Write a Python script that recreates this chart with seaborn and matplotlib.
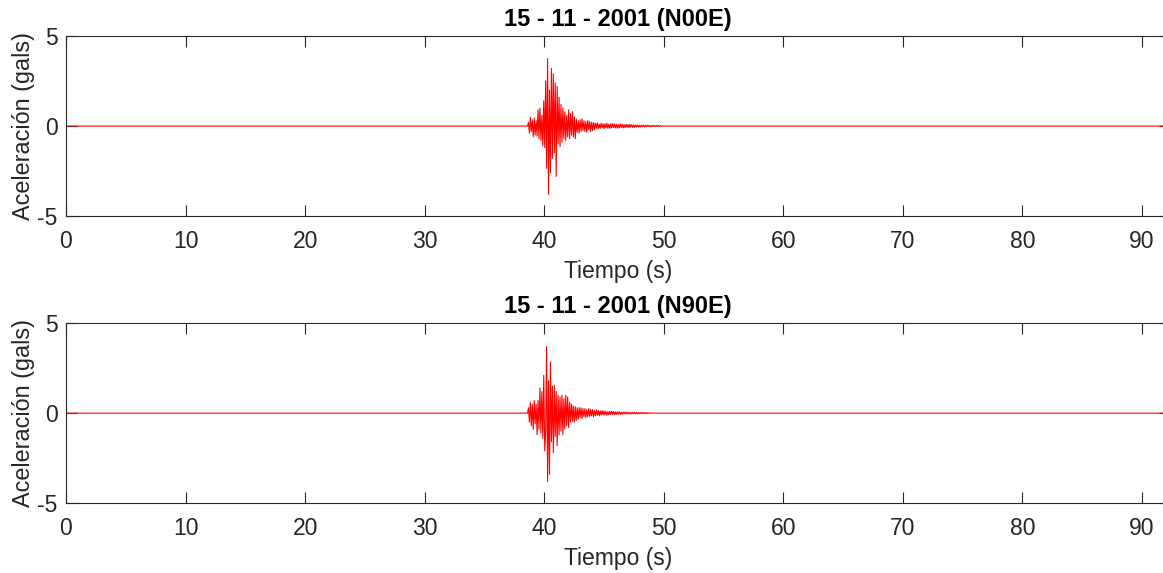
import numpy as np
import pandas as pd
import matplotlib
matplotlib.use("Agg")
import matplotlib.pyplot as plt
import seaborn as sns

# ---- data ----
titles = ["15 - 11 - 2001 (N00E)", "15 - 11 - 2001 (N90E)"]
x_ticks = [0, 10, 20, 30, 40, 50, 60, 70, 80, 90]
y_ticks = [-5, 0, 5]
t_start = 0.0
t_end = 92.3
burst_t0 = 38.6      # s, first sample of the strong-motion burst
burst_dt = 0.08      # s, sample spacing of the burst values

acc_n00e = [0.0,
            0.2, -0.4, 0.5, -0.3, 0.35, -0.6, 0.45, -0.5, 0.3, -0.55,
            0.9, -0.7, 1.0, -0.8, 0.6, -1.1, 1.4, -1.2, 2.5, -2.35,
            3.75, -3.8, 2.0, -2.6, 3.2, -1.8, 2.9, -1.5, 2.4, -2.8,
            2.2, -1.0, 1.6, -1.15, 1.2, -0.9, 1.0, -0.7, 0.8, -0.8,
            0.6, -0.6, 0.9, -0.7, 0.7, -0.5, 0.8, -0.6, 0.5, -0.7,
            0.4, -0.35, 0.3, -0.4, 0.35, -0.3, 0.4, -0.25, 0.3, -0.3,
            0.25, -0.35, 0.3, -0.2, 0.25, -0.3, 0.2, -0.25, 0.2, -0.2,
            0.15, -0.12, 0.18, -0.15, 0.1, -0.14, 0.16, -0.1, 0.12, -0.15,
            0.13, -0.1, 0.15, -0.12, 0.1, -0.13, 0.12, -0.1, 0.14, -0.08,
            0.12, -0.1, 0.1, -0.12, 0.08, -0.1, 0.12, -0.08, 0.1, -0.1,
            0.08, -0.09, 0.1, -0.07, 0.08, -0.08, 0.09, -0.06, 0.07, -0.08,
            0.06, -0.07, 0.06, -0.05, 0.05, -0.06, 0.04, -0.05, 0.05, -0.04,
            0.05, -0.05, 0.04, -0.04, 0.05, -0.03, 0.04, -0.04, 0.03, -0.04,
            0.04, -0.03, 0.03, -0.03, 0.04, -0.02, 0.03, -0.03, 0.02, -0.02,
            0.0]

acc_n90e = [0.0,
            0.3, -0.5, 0.6, -0.7, 0.5, -0.9, 0.7, -0.6, 0.5, -1.2,
            0.7, -0.9, 1.4, -1.1, 1.2, -1.4, 2.1, -2.1, -1.0, 3.7,
            -3.8, 1.8, -3.4, 2.85, -1.6, 1.5, -2.2, 1.55, -1.3, 1.2,
            -1.8, 1.0, -1.2, 0.9, -1.0, 1.0, -1.2, 0.8, -0.9, 1.0,
            -0.7, 0.9, -0.8, 0.6, -0.5, 0.5, -0.45, 0.4, -0.5, 0.35,
            -0.4, 0.3, -0.35, 0.3, -0.25, 0.3, -0.3, 0.25, -0.2, 0.25,
            -0.25, 0.2, -0.2, 0.25, -0.18, 0.2, -0.15, 0.2, -0.2, 0.15,
            -0.15, 0.18, -0.12, 0.15, -0.15, 0.12, -0.1, 0.14, -0.1, 0.12,
            -0.1, 0.1, -0.12, 0.08, -0.09, 0.1, -0.08, 0.1, -0.07, 0.09,
            -0.08, 0.07, -0.07, 0.08, -0.06, 0.07, -0.07, 0.05, -0.06, 0.06,
            -0.05, 0.06, -0.05, 0.05, -0.04, 0.05, -0.05, 0.04, -0.04, 0.05,
            -0.04, 0.04, -0.03, 0.04, -0.04, 0.03, -0.03, 0.04, -0.03, 0.03,
            -0.03, 0.03, -0.02, 0.03, -0.03, 0.02, -0.02, 0.02, 0.0]


def build_frame(values):
    burst_t = burst_t0 + burst_dt * np.arange(len(values))
    t = np.concatenate([[t_start], burst_t, [t_end]])
    a = np.concatenate([[0.0], values, [0.0]])
    return pd.DataFrame({"Tiempo": t, "Aceleracion": a})


frames = [build_frame(acc_n00e), build_frame(acc_n90e)]

sns.set_theme(style="white")
plt.rcParams["font.family"] = ["Liberation Sans", "DejaVu Sans"]
plt.rcParams["axes.unicode_minus"] = False

fig = plt.figure(figsize=(11.63, 5.73), dpi=100)
px_per_s = 11.956
ax_w = 92.3 * px_per_s / 1163
positions = [[66 / 1163, 0.623, ax_w, 0.314], [66 / 1163, 0.122, ax_w, 0.314]]

for pos, df, title in zip(positions, frames, titles):
    ax = fig.add_axes(pos)
    sns.lineplot(data=df, x="Tiempo", y="Aceleracion", ax=ax,
                 color="#ff0000", linewidth=0.8, estimator=None, sort=False)
    ax.set_xlim(t_start, t_end)
    ax.set_ylim(-5, 5)
    ax.set_xticks(x_ticks)
    ax.set_yticks(y_ticks)
    ax.tick_params(axis="both", which="both", direction="in", length=8,
                   width=0.8, colors="#262626", labelsize=16.5,
                   top=True, right=True, bottom=True, left=True)
    ax.tick_params(axis="x", pad=10)
    ax.tick_params(axis="y", pad=6)
    for s in ax.spines.values():
        s.set_linewidth(0.8)
        s.set_color("#262626")
    ax.set_xlabel("Tiempo (s)", fontsize=16.5, color="#262626", labelpad=5)
    ax.set_ylabel("Aceleración (gals)", fontsize=16.8, color="#262626", labelpad=2)
    ax.set_title(title, fontsize=17, fontweight="bold", color="black", pad=7.5)

fig.savefig("out.png", dpi=100)
